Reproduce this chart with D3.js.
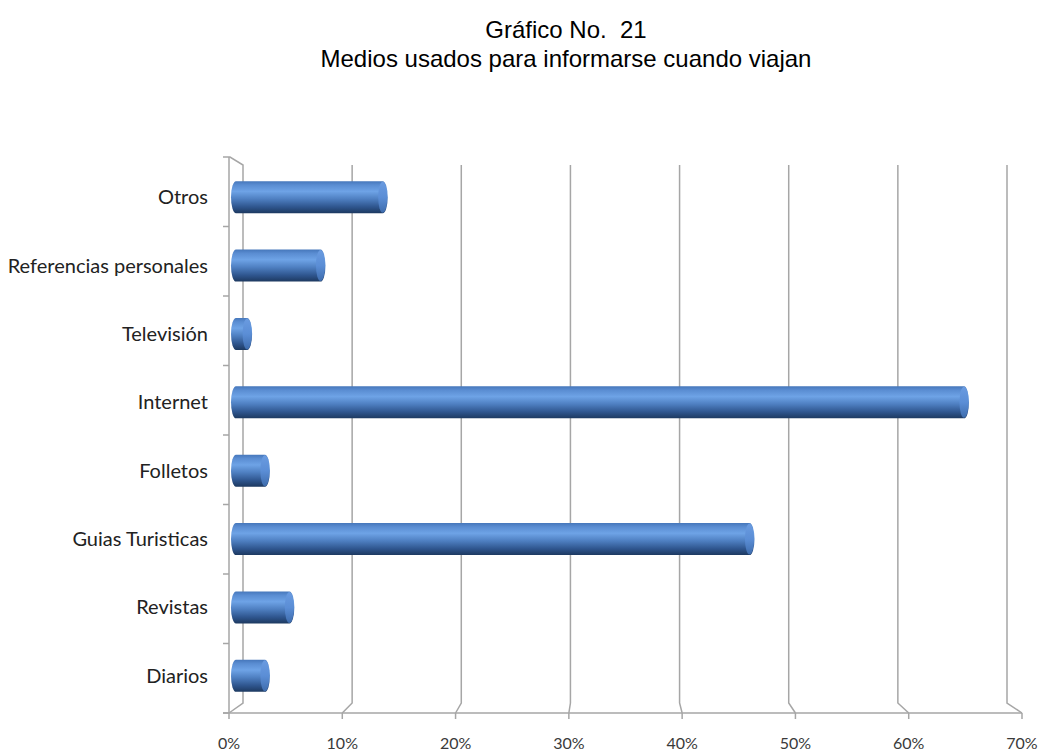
<!DOCTYPE html>
<html>
<head>
<meta charset="utf-8">
<script src="https://cdn.jsdelivr.net/npm/d3@7"></script>
<style>
  body { margin: 0; background: #fff; }
  .title { font-family: "Liberation Sans", Arial, sans-serif; font-size: 24px; fill: #000; }
  .lbl { font-family: Lato, "Open Sans", sans-serif; font-size: 20px; fill: #222; }
  .tick { font-family: Lato, "Open Sans", sans-serif; font-size: 16px; fill: #3a3a3a; }
</style>
</head>
<body>
<svg id="chart" width="1041" height="756"></svg>
<script>
var categories = ["Otros", "Referencias personales", "Televisión", "Internet", "Folletos", "Guias Turisticas", "Revistas", "Diarios"];
var values = [0.132, 0.076, 0.010, 0.655, 0.026, 0.462, 0.048, 0.026];
var ticks = [0, 0.1, 0.2, 0.3, 0.4, 0.5, 0.6, 0.7];
var titleLines = ["Gráfico No.  21", "Medios usados para informarse cuando viajan"];

var data = categories.map((c, i) => ({ name: c, value: values[i] }));

var svg = d3.select("#chart");

// front plane (axis) and back plane (walls) of the 3D chart
var xFront = d3.scaleLinear().domain([0, 0.7]).range([229, 1022]);
var xBack = d3.scaleLinear().domain([0, 0.7]).range([243, 1007]);
var xBar = d3.scaleLinear().domain([0, 0.7]).range([236, 1014]);

var yFront = d3.scaleBand().domain(categories).range([157, 713]);
var yBack = d3.scaleBand().domain(categories).range([162, 709]);

var backTop = 165, backBottom = 703, frontBottom = 713;

// title
svg.selectAll(".title")
    .data(titleLines)
    .enter().append("text")
    .attr("class", "title")
    .attr("x", 566)
    .attr("y", (d, i) => 38 + i * 29)
    .attr("text-anchor", "middle")
    .style("white-space", "pre")
    .text(d => d);

var grid = svg.append("g")
    .attr("fill", "none")
    .attr("stroke", "#a6a6a6")
    .attr("stroke-width", 1.5);

// vertical gridlines on the back wall, bending to the front axis
grid.selectAll(".gl")
    .data(ticks)
    .enter().append("path")
    .attr("d", d => d === 0
        ? `M${xFront(d)},${157}L${xFront(d)},${frontBottom}`
        : `M${xBack(d)},${backTop}L${xBack(d)},${backBottom}L${xFront(d)},${frontBottom}`);

// left wall back edge + top edge
grid.append("path")
    .attr("d", `M${xFront(0)},157L${xFront(0) + 1},157L${xBack(0)},${backTop}L${xBack(0)},${backBottom}L${xFront(0)},${frontBottom}`);

// front x axis line
grid.append("path")
    .attr("d", `M${xFront(0) - 6},${frontBottom}L${xFront(0.7)},${frontBottom}`);

// x ticks
grid.selectAll(".xt")
    .data(ticks)
    .enter().append("path")
    .attr("d", d => `M${xFront(d)},${frontBottom}L${xFront(d)},${frontBottom + 6}`);

// y ticks on the left axis at band boundaries
var bounds = categories.map(c => yFront(c)).concat([713]);
grid.selectAll(".yt")
    .data(bounds)
    .enter().append("path")
    .attr("d", d => `M${xFront(0) - 6},${d}L${xFront(0)},${d}`);

// x tick labels
svg.selectAll(".tick")
    .data(ticks)
    .enter().append("text")
    .attr("class", "tick")
    .attr("x", d => xFront(d))
    .attr("y", 749)
    .attr("text-anchor", "middle")
    .text(d => d3.format(".0%")(d));

// category labels
svg.selectAll(".lbl")
    .data(categories)
    .enter().append("text")
    .attr("class", "lbl")
    .attr("x", 208)
    .attr("y", d => yBack(d) + yBack.bandwidth() / 2 + 1)
    .attr("dy", "0.35em")
    .attr("text-anchor", "end")
    .text(d => d);

// cylinder gradients
var defs = svg.append("defs");
var body = defs.append("linearGradient")
    .attr("id", "body").attr("x1", 0).attr("y1", 0).attr("x2", 0).attr("y2", 1);
[[0, "#4677bb"], [0.12, "#5a8dd2"], [0.32, "#6ea3e6"], [0.55, "#4f80c2"], [0.8, "#2f568f"], [1, "#1d3960"]]
    .forEach(s => body.append("stop").attr("offset", s[0]).attr("stop-color", s[1]));
var cap = defs.append("linearGradient")
    .attr("id", "cap").attr("x1", 0).attr("y1", 0).attr("x2", 0).attr("y2", 1);
[[0, "#6a9be0"], [0.5, "#5b8ed6"], [1, "#3e6cad"]]
    .forEach(s => cap.append("stop").attr("offset", s[0]).attr("stop-color", s[1]));

var h = 32, rx = 5;

var bars = svg.append("g").selectAll("g")
    .data(data)
    .enter().append("g")
    .attr("transform", d => `translate(0,${yBack(d.name) + yBack.bandwidth() / 2 + 1 - h / 2})`);

bars.append("path")
    .attr("fill", "url(#body)")
    .attr("d", d => {
        var x0 = xBar(0), x1 = Math.max(xBar(d.value), x0 + 2);
        return `M${x0},0L${x1},0A${rx},${h / 2} 0 0 1 ${x1},${h}L${x0},${h}A${rx},${h / 2} 0 0 1 ${x0},0Z`;
    });

bars.append("ellipse")
    .attr("fill", "url(#cap)")
    .attr("cx", d => Math.max(xBar(d.value), xBar(0) + 2))
    .attr("cy", h / 2)
    .attr("rx", rx - 0.5)
    .attr("ry", h / 2 - 0.5);
</script>
</body>
</html>
